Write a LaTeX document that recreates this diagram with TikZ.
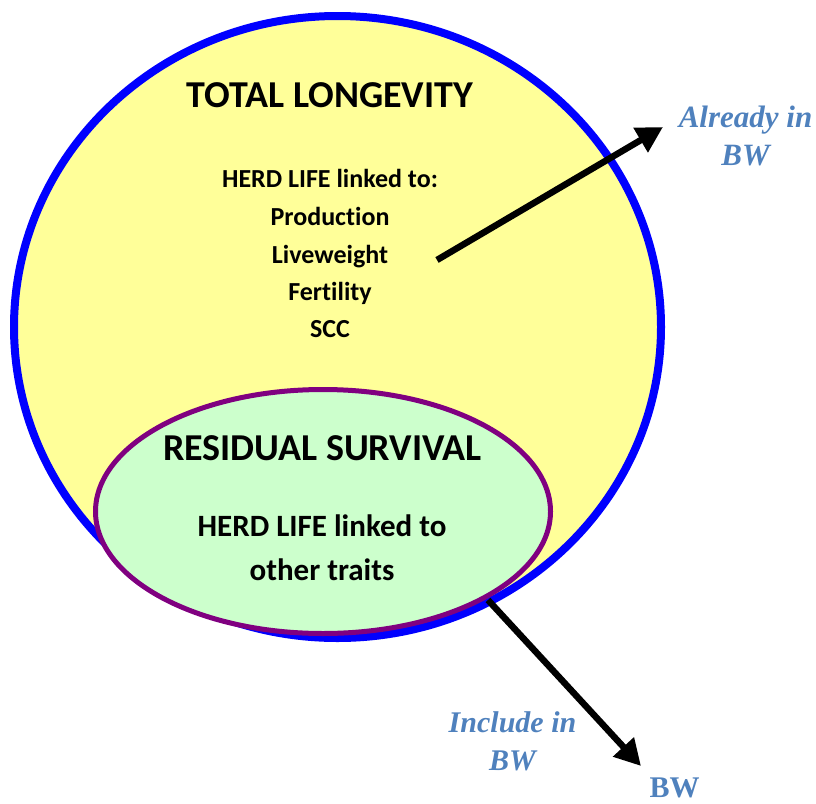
\documentclass[tikz,border=0pt]{standalone}
\usepackage{fontspec}
\setmainfont{Carlito}[Ligatures={NoCommon}]
\newfontfamily\bwfont{Liberation Serif}
\usetikzlibrary{arrows.meta}
\definecolor{bwblue}{RGB}{79,129,189}
\definecolor{paleyellow}{RGB}{255,255,153}
\definecolor{palegreen}{RGB}{204,255,204}
\definecolor{darkpurple}{RGB}{128,0,128}

\begin{document}
\begin{tikzpicture}[x=1pt,y=-1pt,
    txt/.style={font=\bfseries\fontsize{#1}{#1}\selectfont, inner sep=0pt, anchor=base},
    bwtxt/.style={font=\bwfont\bfseries\itshape\fontsize{#1}{#1}\selectfont, text=bwblue, inner sep=0pt, anchor=base},
    bigarrow/.style={line width=6.5pt, -{Triangle[length=26pt,width=27pt]}}]
            \useasboundingbox (0,0) rectangle (816,803);

            \draw[blue, line width=8pt, fill=paleyellow] (337.5,327) ellipse (323.5 and 311);
            \draw[darkpurple, line width=5pt, fill=palegreen] (323,511.5) ellipse (227.5 and 122);

            \node[txt=38] (total) at (330,107) {TOTAL LONGEVITY};
            \node[txt=26] (herd) at (330,187) {HERD LIFE linked to:};
            \node[txt=26] (prod) at (330,225) {Production};
            \node[txt=26] (live) at (330,263) {Liveweight};
            \node[txt=26] (fert) at (330,300) {Fertility};
            \node[txt=26] (scc) at (330,337) {SCC};

            \node[txt=38] (resid) at (322.5,460) {RESIDUAL SURVIVAL};
            \node[txt=31] (herdo) at (322,536) {HERD LIFE linked to};
            \node[txt=31] (other) at (322,580) {other traits};

            \node[bwtxt=31] (already) at (745.5,127) {Already in};
            \node[bwtxt=31] (alreadybw) at (745.5,165) {BW};
            \node[bwtxt=30] (include) at (512.5,732) {Include in};
            \node[bwtxt=30] (includebw) at (512.5,770) {BW};
            \node[txt=30, font=\bwfont\bfseries\fontsize{30}{30}\selectfont, text=bwblue] (bw) at (674.5,797) {BW};

            \coordinate (a1) at (437,260);
            \coordinate (a2) at (663,127);
            \coordinate (b1) at (488,600);
            \coordinate (b2) at (641,766);
            \draw[bigarrow] (a1) -- (a2);
            \draw[bigarrow] (b1) -- (b2);
        \end{tikzpicture}
\end{document}
